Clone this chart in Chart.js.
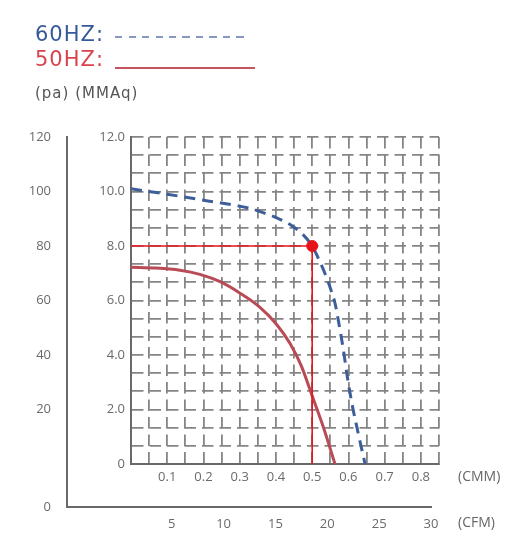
<!DOCTYPE html>
<html>
<head>
<meta charset="utf-8">
<title>Fan static pressure curve</title>
<script src="https://cdn.jsdelivr.net/npm/chart.js@4/dist/chart.umd.min.js"></script>
<style>
  html, body { margin: 0; padding: 0; background: #ffffff; }
  #wrap { position: relative; width: 523px; height: 536px; overflow: hidden; }
  #wrap canvas { position: absolute; left: 0; top: 0; }
  .key { position: absolute; left: 35px; font-family: "DejaVu Sans", sans-serif; font-size: 21px; line-height: 21px; letter-spacing: 1px; white-space: nowrap; }
  .key60 { top: 24px; color: #37599a; }
  .key50 { top: 49px; color: #d8444d; }
  .swatch { position: absolute; left: 115px; height: 1.5px; }
  .swatch60 { top: 36px; width: 135px; background: repeating-linear-gradient(to right, #8797c2 0 7px, transparent 7px 13.5px); }
  .swatch50 { top: 67px; width: 140px; background: #c4545d; }
  .units { position: absolute; left: 35px; top: 86px; font-family: "DejaVu Sans", sans-serif; font-size: 15px; line-height: 15px; letter-spacing: 1px; color: #555; white-space: nowrap; }
  .axisname { position: absolute; left: 458px; font-family: "Open Sans", sans-serif; font-size: 14px; line-height: 14px; color: #666; white-space: nowrap; }
</style>
</head>
<body>
<div id="wrap">
  <canvas id="frame" width="523" height="536"></canvas>
  <canvas id="plot" width="523" height="536"></canvas>
  <div class="key key60">60HZ:</div>
  <div class="swatch swatch60"></div>
  <div class="key key50">50HZ:</div>
  <div class="swatch swatch50"></div>
  <div class="units">(pa) (MMAq)</div>
  <div class="axisname" style="top:469px">(CMM)</div>
  <div class="axisname" style="top:515px">(CFM)</div>
</div>
<script>
// Static pressure (mmAq) against airflow (CMM) for the two supply frequencies
const flow60  = [0, 0.1, 0.2, 0.328, 0.37, 0.411, 0.448, 0.476, 0.5, 0.517, 0.535, 0.554, 0.563, 0.572, 0.586, 0.597, 0.61, 0.627, 0.646];
const press60 = [10.1, 9.9, 9.68, 9.38, 9.2, 8.98, 8.71, 8.4, 8.0, 7.55, 7.0, 6.3, 5.9, 5.28, 4.2, 3.2, 2.2, 1.13, 0];

const flow50  = [0, 0.07, 0.135, 0.19, 0.246, 0.301, 0.356, 0.402, 0.439, 0.47, 0.5, 0.531, 0.563];
const press50 = [7.22, 7.19, 7.11, 6.96, 6.69, 6.27, 5.75, 5.12, 4.42, 3.6, 2.5, 1.35, 0];

// Marked operating point
const opFlow = 0.5;
const opPress = 8.0;

// Inner axes: one grid cell = 0.05 CMM wide, 2/3 mmAq tall
const cmmTicks  = [0, 0.05, 0.1, 0.15, 0.2, 0.25, 0.3, 0.35, 0.4, 0.45, 0.5, 0.55, 0.6, 0.65, 0.7, 0.75, 0.8, 0.85];
const cmmLabels = ['', '', '0.1', '', '0.2', '', '0.3', '', '0.4', '', '0.5', '', '0.6', '', '0.7', '', '0.8', ''];
const mmaqLabels = ['0', '2.0', '4.0', '6.0', '8.0', '10.0', '12.0'];

// Outer frame axes
const cfmTicks = [5, 10, 15, 20, 25, 30];
const paTicks  = [0, 20, 40, 60, 80, 100, 120];

const FONT = { family: 'Open Sans', size: 13 };
const TEXT = '#6a6a6a';
const AXIS = '#696969';

const pts = (xs, ys) => xs.map((x, i) => ({ x, y: ys[i] }));

// Grid rows: three cells per labelled 2.0 step
const mmaqTicks = [];
const mmaqTickLabels = [];
for (let i = 0; i <= 18; i++) {
  mmaqTicks.push(i * 2 / 3);
  mmaqTickLabels.push(i % 3 === 0 ? mmaqLabels[i / 3] : '');
}

// ---- outer pa / CFM frame ----
// The frame sits below the plot; its corner carries the 0 label.
const PA_FLOOR = -15.8;
const CFM_FLOOR = -5.1;
new Chart(document.getElementById('frame'), {
  type: 'scatter',
  data: { datasets: [] },
  options: {
    responsive: false,
    animation: false,
    layout: { padding: { left: 0, top: 137, right: 92, bottom: 0 } },
    plugins: { legend: { display: false }, tooltip: { enabled: false } },
    scales: {
      x: {
        type: 'linear', min: CFM_FLOOR, max: 30,
        afterBuildTicks: s => { s.ticks = cfmTicks.map(v => ({ value: v })); },
        afterFit: s => { s.height = 29; },
        grid: { display: false },
        border: { color: AXIS, width: 2 },
        ticks: { autoSkip: false, maxRotation: 0, padding: 1, color: TEXT, font: FONT,
                 callback: v => String(v) }
      },
      y: {
        type: 'linear', min: PA_FLOOR, max: 120,
        afterBuildTicks: s => { s.ticks = paTicks.map(v => ({ value: v === 0 ? PA_FLOOR : v })); },
        afterFit: s => { s.width = 67; },
        grid: { display: false },
        border: { color: AXIS, width: 2 },
        ticks: { autoSkip: false, padding: 8, color: TEXT, font: FONT,
                 callback: (v, i) => String(paTicks[i]) }
      }
    }
  }
});

// ---- inner pressure / airflow plot ----
new Chart(document.getElementById('plot'), {
  type: 'scatter',
  data: {
    datasets: [
      { label: 'operating point', data: [{ x: opFlow, y: opPress }],
        pointRadius: 5.5, pointBackgroundColor: '#e8121b', pointBorderColor: '#e8121b', showLine: false },
      { label: 'guide', data: [{ x: 0, y: opPress }, { x: opFlow, y: opPress }, { x: opFlow, y: 0 }],
        showLine: true, borderColor: '#e3161e', borderWidth: 1.6, pointRadius: 0, tension: 0 },
      { label: '60HZ', data: pts(flow60, press60), showLine: true, borderColor: '#3e5e99',
        borderWidth: 3, borderDash: [11, 7], pointRadius: 0, cubicInterpolationMode: 'monotone' },
      { label: '50HZ', data: pts(flow50, press50), showLine: true, borderColor: '#b94b56',
        borderWidth: 3, pointRadius: 0, cubicInterpolationMode: 'monotone' }
    ]
  },
  options: {
    responsive: false,
    animation: false,
    layout: { padding: { left: 0, top: 137, right: 84, bottom: 0 } },
    plugins: { legend: { display: false }, tooltip: { enabled: false } },
    scales: {
      x: {
        type: 'linear', min: 0, max: 0.85,
        afterBuildTicks: s => { s.ticks = cmmTicks.map(v => ({ value: v })); },
        afterFit: s => { s.height = 72; },
        grid: { color: '#858585', lineWidth: 1.8, drawTicks: false },
        border: { color: AXIS, width: 2, dash: [11.5, 6] },
        ticks: { autoSkip: false, maxRotation: 0, padding: 5, color: TEXT, font: FONT,
                 callback: (v, i) => cmmLabels[i] }
      },
      y: {
        type: 'linear', min: 0, max: 12,
        afterBuildTicks: s => { s.ticks = mmaqTicks.map(v => ({ value: v })); },
        afterFit: s => { s.width = 131; },
        grid: { color: '#858585', lineWidth: 1.8, drawTicks: false },
        border: { color: AXIS, width: 2, dash: [11.5, 6] },
        ticks: { autoSkip: false, padding: 6, color: TEXT, font: FONT,
                 callback: (v, i) => mmaqTickLabels[i] }
      }
    }
  }
});
</script>
</body>
</html>
